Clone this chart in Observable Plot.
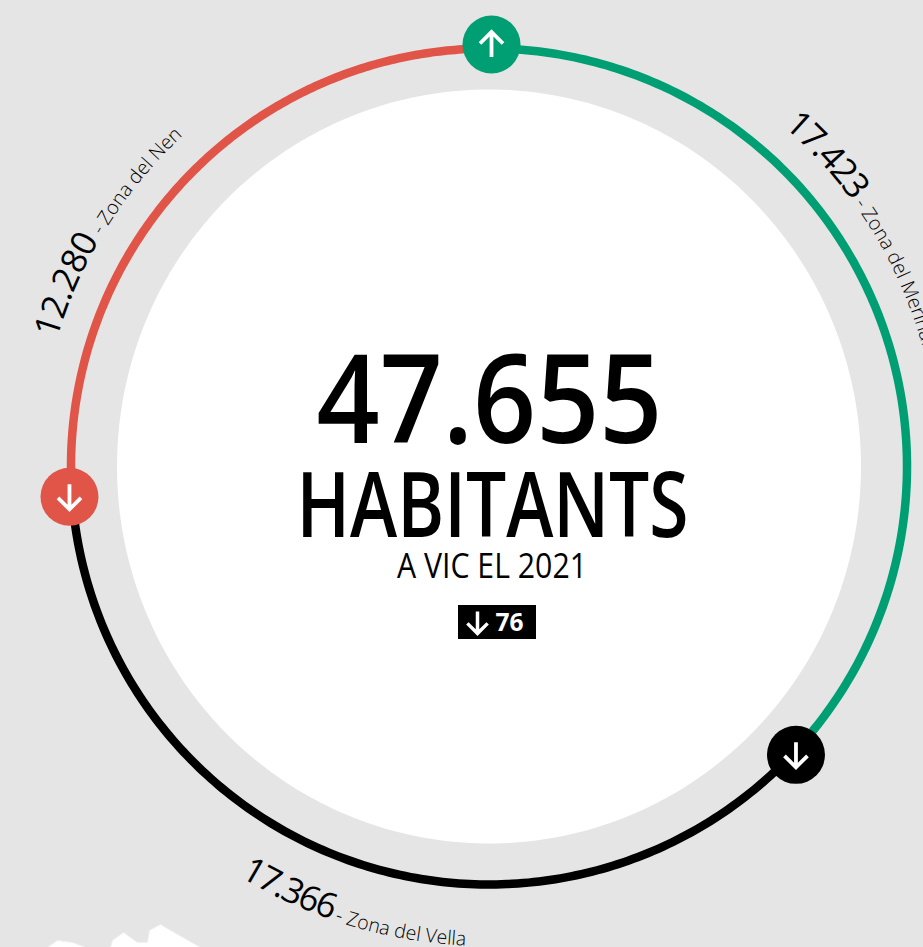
<!DOCTYPE html>
<html><head><meta charset="utf-8">
<script src="https://cdn.jsdelivr.net/npm/d3@7"></script>
<script src="https://cdn.jsdelivr.net/npm/@observablehq/plot@0.6"></script>
<style>html,body{margin:0;padding:0;background:#e5e5e5;overflow:hidden}svg{display:block}</style>
</head><body><div id="chart"></div>
<script>
const zones = ["Zona del Merinal", "Zona del Vella", "Zona del Nen"];
const populations = [17423, 17366, 12280];
const popLabels = ["17.423", "17.366", "12.280"];
const colors = ["#009e73", "#000000", "#e05547"];
const directions = [0, 180, 180];
const totalLabel = "47.655", unit = "HABITANTS", sub = "A VIC EL 2021", change = "76";
const mapA = [[47,947],[57,940],[72,942],[85,947]];
const mapB = [[110,947],[112,940],[123,932],[137,942],[147,942],[149,930],[160,924],[170,930],[200,947]];

const sum = d3.sum(populations);
const R = 418, Rb = 421.5, Rwx = 372, Rwy = 377;
let acc = 0;
const segs = populations.map((p, i) => { const a0 = acc / sum * 2 * Math.PI; acc += p; return {i, a0, a1: acc / sum * 2 * Math.PI}; });
const pt = (a, r) => ({x: r * Math.sin(a), y: -r * Math.cos(a)});
const arcPts = s => d3.range(0, 181).map(k => ({...pt(s.a0 + (s.a1 - s.a0) * k / 180, R), i: s.i}));
const circlePts = d3.range(0, 361).map(k => ({x: Rwx * Math.sin(k / 180 * Math.PI), y: -Rwy * Math.cos(k / 180 * Math.PI)}));
const nudge = [[2.5, -0.5], [0, -0.5], [1, 1.5]];
const btn = [0, 1, 2].map(i => { const p = pt(segs[i].a0, Rb); return {x: p.x + nudge[i][0], y: p.y + nudge[i][1], i, rot: directions[i]}; });
const arrowShape = {draw(c, l) { const w = l * 0.46; c.moveTo(0, 0); c.lineTo(0, -l); c.moveTo(-w, w - l); c.lineTo(0, -l); c.lineTo(w, w - l); }};
const font = "'Open Sans',sans-serif";

function curved() {
  return (index, scales) => {
    const ns = "http://www.w3.org/2000/svg";
    const g = document.createElementNS(ns, "g");
    const cx = scales.x(0), cy = scales.y(0);
    const defs = [
      {id:"m", r:450, a0:41, a1:54.4, end:140, sweep:1, i:0, ls:-1.5},
      {id:"v", r:480, a0:211.2, a1:198.7, end:120, sweep:0, i:1, ls:-1.5},
      {id:"n", r:450, a0:-73.6, a1:-59.2, end:20, sweep:1, i:2, ls:-0.3}
    ];
    const add = (id, d, start, str, size) => {
      const P = a => [cx + d.r * Math.sin(a * Math.PI / 180), cy - d.r * Math.cos(a * Math.PI / 180)];
      const [x0, y0] = P(start), [x1, y1] = P(d.end);
      const p = document.createElementNS(ns, "path");
      p.setAttribute("id", id);
      p.setAttribute("fill", "none");
      p.setAttribute("d", `M${x0},${y0}A${d.r},${d.r} 0 0 ${d.sweep} ${x1},${y1}`);
      const t = document.createElementNS(ns, "text");
      const tp = document.createElementNS(ns, "textPath");
      tp.setAttribute("href", "#" + id);
      t.setAttribute("font-family", "'Open Sans',sans-serif");
      t.setAttribute("font-weight", size > 30 ? "400" : "300");
      t.setAttribute("font-size", size);
      t.setAttribute("text-anchor", "start");
      t.setAttribute("fill", "#000");
      if (size > 30) t.setAttribute("letter-spacing", d.ls);
      tp.textContent = str;
      t.appendChild(tp);
      g.append(p, t);
    };
    for (const d of defs) {
      add(d.id + "1", d, d.a0, popLabels[d.i], 35);
      add(d.id + "2", d, d.a1, "- " + zones[d.i], 19.5);
    }
    return g;
  };
}

const plot = Plot.plot({
  width: 923, height: 947, margin: 0, style: {background: "#e5e5e5", overflow: "hidden"},
  x: {domain: [-488.5, 434.5], range: [0, 923], axis: null},
  y: {domain: [-466, 481], range: [0, 947], axis: null},
  marks: [
    Plot.line(circlePts, {x: "x", y: "y", fill: "white", stroke: "none"}),
    ...[mapA, mapB].map(m => Plot.line(m.map(([a, b]) => ({x: a - 488.5, y: b - 466})), {x: "x", y: "y", fill: "white", stroke: "#f2f2f2", strokeWidth: 1})),
    ...segs.map(s => Plot.line(arcPts(s), {x: "x", y: "y", stroke: colors[s.i], strokeWidth: 8.5, strokeLinecap: "butt"})),
    Plot.dot(btn, {x: "x", y: "y", r: 29, fill: d => colors[d.i]}),
    Plot.vector(btn, {x: "x", y: "y", length: 25, rotate: "rot", anchor: "middle", shape: arrowShape, stroke: "white", strokeWidth: 3.8, strokeLinejoin: "miter", strokeLinecap: "butt"}),
    Plot.text([totalLabel], {x: () => 0.5, y: () => -63, fontSize: 123, fontFamily: font, fontWeight: 600, fill: "#000", className: "t-total"}),
    Plot.text([unit], {x: () => 3.5, y: () => 42, fontSize: 90, fontFamily: font, fontWeight: 600, fill: "#000", className: "t-unit"}),
    Plot.text([sub], {x: () => 3, y: () => 101, fontSize: 34, fontFamily: font, fontWeight: 400, fill: "#000", className: "t-sub"}),
    Plot.rect([change], {x1: () => -30.5, x2: () => 47.5, y1: () => 139, y2: () => 173, fill: "#000"}),
    Plot.vector([change], {x: () => -11.5, y: () => 156, length: 22, rotate: 180, anchor: "middle", shape: arrowShape, stroke: "white", strokeWidth: 3.5, strokeLinejoin: "miter", strokeLinecap: "butt"}),
    Plot.text([change], {x: () => 20.5, y: () => 156, fontSize: 25, fontWeight: 700, fontFamily: font, fill: "#fff", className: "t-change"}),
    curved()
  ]
});
document.getElementById("chart").appendChild(plot);
const squeeze = (cls, w) => plot.querySelectorAll("." + cls + " text, text." + cls).forEach(t => { t.setAttribute("textLength", w); t.setAttribute("lengthAdjust", "spacingAndGlyphs"); });
squeeze("t-total", 346); squeeze("t-unit", 392); squeeze("t-sub", 190); squeeze("t-change", 28);
</script></body></html>
